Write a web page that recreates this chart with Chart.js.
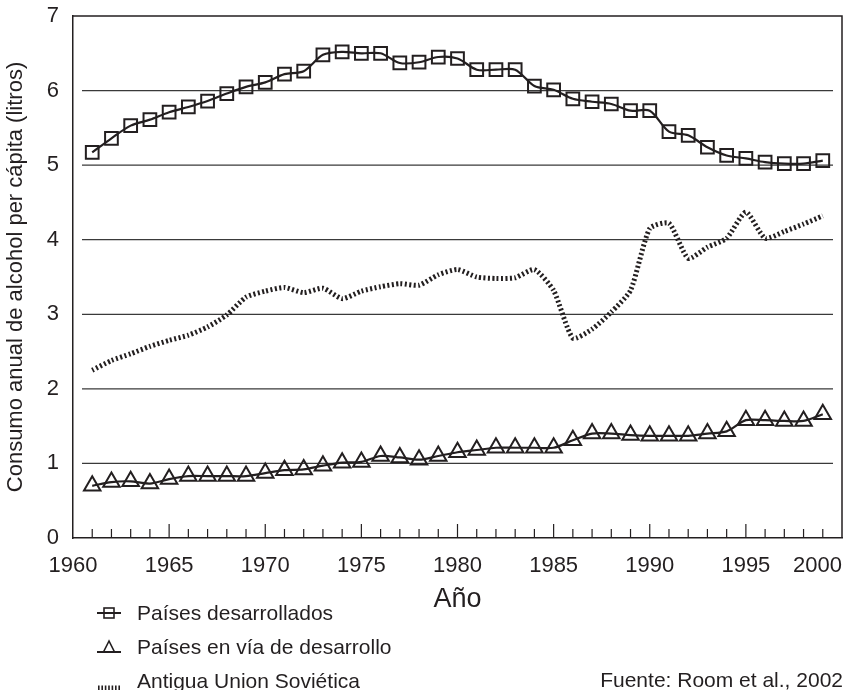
<!DOCTYPE html>
<html>
<head>
<meta charset="utf-8">
<script src="https://cdn.jsdelivr.net/npm/chart.js@4.4.0/dist/chart.umd.min.js"></script>
<style>
  html, body { margin: 0; padding: 0; background: #fff; }
  #wrap { position: relative; width: 848px; height: 690px; font-family: 'Liberation Sans', Arial, sans-serif; color: #231f20; }
  #legend { position: absolute; left: 94px; top: 596px; font-size: 21px; }
  .row { display: flex; align-items: center; height: 34px; white-space: nowrap; }
  .row svg { width: 30px; height: 20px; margin-right: 13px; flex: none; }
  #fuente { position: absolute; right: 5px; top: 667px; font-size: 21px; line-height: 26px; }
</style>
</head>
<body>
<div id="wrap">
  <canvas id="chart" width="848" height="690"></canvas>
  <div id="legend"></div>
  <div id="fuente">Fuente: Room et al., 2002</div>
</div>
<script>
const years = [1961, 1962, 1963, 1964, 1965, 1966, 1967, 1968, 1969, 1970,
  1971, 1972, 1973, 1974, 1975, 1976, 1977, 1978, 1979, 1980,
  1981, 1982, 1983, 1984, 1985, 1986, 1987, 1988, 1989, 1990,
  1991, 1992, 1993, 1994, 1995, 1996, 1997, 1998, 1999];

const developed = [5.17, 5.36, 5.53, 5.61, 5.71, 5.78, 5.86, 5.96, 6.05, 6.11,
  6.22, 6.26, 6.48, 6.52, 6.50, 6.50, 6.37, 6.38, 6.45, 6.43,
  6.28, 6.28, 6.28, 6.06, 6.01, 5.89, 5.85, 5.82, 5.73, 5.73,
  5.45, 5.40, 5.24, 5.13, 5.09, 5.04, 5.02, 5.02, 5.06];

const developing = [0.70, 0.75, 0.76, 0.73, 0.79, 0.83, 0.83, 0.83, 0.83, 0.87,
  0.91, 0.92, 0.97, 1.01, 1.02, 1.10, 1.08, 1.05, 1.10, 1.15,
  1.18, 1.21, 1.21, 1.21, 1.21, 1.31, 1.40, 1.40, 1.38, 1.37,
  1.37, 1.37, 1.40, 1.43, 1.58, 1.58, 1.57, 1.57, 1.66];

const soviet = [2.25, 2.38, 2.47, 2.57, 2.65, 2.72, 2.83, 2.99, 3.23, 3.31,
  3.36, 3.29, 3.35, 3.21, 3.31, 3.37, 3.41, 3.39, 3.53, 3.60,
  3.50, 3.48, 3.49, 3.60, 3.32, 2.68, 2.80, 3.03, 3.32, 4.15,
  4.22, 3.75, 3.90, 4.02, 4.37, 4.02, 4.11, 4.21, 4.32];

const seriesLabels = ['Países desarrollados', 'Países en vía de desarrollo', 'Antigua Union Soviética'];
const xTitle = 'Año';
const yTitle = 'Consumo anual de alcohol per cápita (litros)';

const ink = '#231f20';
const pts = arr => arr.map((v, i) => ({ x: years[i], y: v }));

Chart.defaults.font.family = "'Liberation Sans', Arial, sans-serif";
Chart.defaults.color = ink;

// frame, inset gridlines, inward year ticks, right-aligned last x label
const framePlugin = {
  id: 'frame',
  beforeDraw(chart) {
    const items = chart.scales.x.getLabelItems(chart.chartArea);
    const last = items[items.length - 1];
    if (last) last.options.textAlign = 'right';
  },
  beforeDatasetsDraw(chart) {
    const { ctx, chartArea: a, scales: { x, y } } = chart;
    ctx.save();
    ctx.strokeStyle = '#3a3a3a';
    ctx.lineWidth = 1.3;
    y.ticks.forEach(t => {
      if (t.value <= y.min || t.value >= y.max) return;
      const py = y.getPixelForValue(t.value);
      ctx.beginPath();
      ctx.moveTo(a.left + 9, py);
      ctx.lineTo(a.right - 9, py);
      ctx.stroke();
    });
    ctx.strokeStyle = ink;
    ctx.lineWidth = 1.2;
    for (let yr = x.min + 1; yr < x.max; yr++) {
      const px = x.getPixelForValue(yr);
      const len = yr % 5 === 0 ? 14 : 9;
      ctx.beginPath();
      ctx.moveTo(px, a.bottom);
      ctx.lineTo(px, a.bottom - len);
      ctx.stroke();
    }
    ctx.lineWidth = 1.5;
    ctx.beginPath();
    ctx.moveTo(a.left, a.top);
    ctx.lineTo(a.right, a.top);
    ctx.lineTo(a.right, a.bottom);
    ctx.stroke();
    ctx.restore();
  }
};

const chart = new Chart(document.getElementById('chart'), {
  type: 'line',
  data: {
    datasets: [
      {
        label: seriesLabels[0],
        data: pts(developed),
        borderColor: ink,
        borderWidth: 2.2,
        pointStyle: 'rect',
        pointRadius: 9,
        pointBorderWidth: 2,
        pointBorderColor: ink,
        pointBackgroundColor: 'rgba(0,0,0,0)',
        tension: 0.3
      },
      {
        label: seriesLabels[1],
        data: pts(developing),
        borderColor: ink,
        borderWidth: 2.2,
        pointStyle: 'triangle',
        pointRadius: 9.5,
        pointBorderWidth: 2,
        pointBorderColor: ink,
        pointBackgroundColor: 'rgba(0,0,0,0)',
        tension: 0.3
      },
      {
        label: seriesLabels[2],
        data: pts(soviet),
        borderColor: ink,
        borderWidth: 5,
        borderDash: [2, 2.4],
        pointRadius: 0,
        tension: 0.2
      }
    ]
  },
  options: {
    responsive: false,
    animation: false,
    layout: { autoPadding: false, padding: { top: 16, right: 6, left: 0, bottom: 74 } },
    plugins: { legend: { display: false }, tooltip: { enabled: false } },
    scales: {
      x: {
        type: 'linear',
        min: 1960,
        max: 2000,
        grid: { display: false, drawTicks: false },
        border: { display: true, color: ink, width: 1.5 },
        ticks: { stepSize: 5, padding: 15, font: { size: 22 }, callback: v => String(v) },
        title: { display: true, text: xTitle, font: { size: 27 }, padding: 0 },
        afterFit(s) { s.paddingRight = 0; s.height = 78; }
      },
      y: {
        min: 0,
        max: 7,
        grid: { display: false, drawTicks: false },
        border: { display: true, color: ink, width: 1.5 },
        ticks: { stepSize: 1, padding: 14, font: { size: 22 } },
        title: { display: true, text: yTitle, font: { size: 22 }, padding: { top: 3, bottom: 0 } },
        afterFit(s) { s.width = 73; s.paddingTop = 0; s.paddingBottom = 0; }
      }
    }
  },
  plugins: [framePlugin]
});

// legend rows built from the datasets
const icon = ds => {
  if (ds.pointStyle === 'rect') {
    return '<svg viewBox="0 0 30 20"><line x1="3" y1="10" x2="27" y2="10" stroke="' + ink + '" stroke-width="2"/>' +
      '<rect x="10" y="5" width="10" height="10" fill="none" stroke="' + ink + '" stroke-width="1.6"/></svg>';
  }
  if (ds.pointStyle === 'triangle') {
    return '<svg viewBox="0 0 30 20"><line x1="3" y1="15" x2="27" y2="15" stroke="' + ink + '" stroke-width="2"/>' +
      '<polygon points="15,4 9.5,15 20.5,15" fill="none" stroke="' + ink + '" stroke-width="1.6"/></svg>';
  }
  return '<svg viewBox="0 0 30 20"><line x1="4" y1="17" x2="26" y2="17" stroke="' + ink + '" stroke-width="5" stroke-dasharray="1.6 1.8"/></svg>';
};
document.getElementById('legend').innerHTML = chart.data.datasets
  .map(ds => '<div class="row">' + icon(ds) + '<span>' + ds.label + '</span></div>')
  .join('');
</script>
</body>
</html>
